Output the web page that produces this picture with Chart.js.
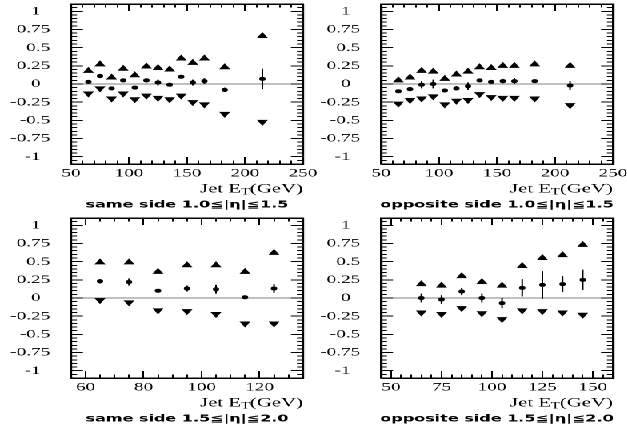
<!DOCTYPE html>
<html>
<head>
<meta charset="utf-8">
<script src="https://cdn.jsdelivr.net/npm/chart.js@4.4.0/dist/chart.umd.min.js"></script>
<style>
html, body { margin: 0; padding: 0; background: #fff; }
/* the original figure is stretched horizontally, so draw narrow and stretch */
#stage { position: absolute; left: 0; top: 0; width: 392px; height: 429px; transform: scaleX(1.6); transform-origin: 0 0; }
#stage canvas { position: absolute; }
#stage .box { position: absolute; border: 1px solid #000; box-sizing: border-box; pointer-events: none; }
</style>
</head>
<body>
<div id="stage">
  <canvas id="c1" width="205" height="214" style="left:0px;top:0px"></canvas>
  <canvas id="c2" width="202" height="214" style="left:190px;top:0px"></canvas>
  <canvas id="c3" width="205" height="215" style="left:0px;top:214px"></canvas>
  <canvas id="c4" width="202" height="215" style="left:190px;top:214px"></canvas>
</div>
<script>
// same side, 1.0 <= |eta| <= 1.5
const etSame10 = [65, 75, 85, 95, 105, 115, 125, 135, 145, 155, 165, 182.5, 215];
const upSame10 = [0.18, 0.27, 0.09, 0.21, 0.12, 0.24, 0.22, 0.20, 0.35, 0.29, 0.35, 0.23, 0.66];
const downSame10 = [-0.13, -0.06, -0.20, -0.13, -0.21, -0.16, -0.19, -0.21, -0.16, -0.25, -0.28, -0.41, -0.52];
const asymSame10 = [0.03, 0.11, -0.06, 0.05, -0.05, 0.05, 0.02, -0.01, 0.10, 0.02, 0.04, -0.08, 0.07];
const errSame10 = [0.015, 0.03, 0.015, 0.015, 0.015, 0.03, 0.04, 0.015, 0.015, 0.04, 0.04, 0.03, 0.14];

// opposite side, 1.0 <= |eta| <= 1.5
const etOpp10 = [65, 75, 85, 95, 105, 115, 125, 135, 145, 155, 165, 182.5, 213];
const upOpp10 = [0.05, 0.09, 0.18, 0.17, 0.07, 0.13, 0.17, 0.23, 0.22, 0.25, 0.25, 0.27, 0.25];
const downOpp10 = [-0.27, -0.22, -0.20, -0.17, -0.28, -0.23, -0.22, -0.14, -0.18, -0.19, -0.19, -0.20, -0.29];
const asymOpp10 = [-0.10, -0.07, -0.01, 0.00, -0.09, -0.06, -0.03, 0.05, 0.03, 0.04, 0.04, 0.04, -0.02];
const errOpp10 = [0.015, 0.03, 0.05, 0.06, 0.015, 0.03, 0.05, 0.015, 0.015, 0.03, 0.04, 0.015, 0.06];

// same side, 1.5 <= |eta| <= 2.0
const etSame15 = [65, 75, 85, 95, 105, 115, 125];
const upSame15 = [0.49, 0.49, 0.36, 0.45, 0.45, 0.36, 0.62];
const downSame15 = [-0.03, -0.06, -0.17, -0.18, -0.22, -0.35, -0.35];
const asymSame15 = [0.23, 0.22, 0.10, 0.13, 0.12, 0.01, 0.13];
const errSame15 = [0.03, 0.05, 0.015, 0.04, 0.06, 0.02, 0.06];

// opposite side, 1.5 <= |eta| <= 2.0
const etOpp15 = [65, 75, 85, 95, 105, 115, 125, 135, 145];
const upOpp15 = [0.19, 0.17, 0.30, 0.22, 0.17, 0.44, 0.55, 0.59, 0.73];
const downOpp15 = [-0.20, -0.22, -0.14, -0.21, -0.29, -0.17, -0.18, -0.20, -0.23];
const asymOpp15 = [0.00, -0.02, 0.09, 0.00, -0.07, 0.14, 0.18, 0.19, 0.25];
const errOpp15 = [0.06, 0.06, 0.05, 0.06, 0.07, 0.12, 0.19, 0.11, 0.14];

// axes
const yTicks = [-1, -0.75, -0.5, -0.25, 0, 0.25, 0.5, 0.75, 1];
const yTickLabels = ['-1', '-0.75', '-0.5', '-0.25', '0', '0.25', '0.5', '0.75', '1'];
const xTicksWide = [50, 100, 150, 200, 250];
const xTicksSame15 = [60, 80, 100, 120];
const xTicksOpp15 = [50, 75, 100, 125, 150];
const xTitle = ['Jet E', 'T', '(GeV)'];
const captions = ['same side 1.0≦|η|≦1.5', 'opposite side 1.0≦|η|≦1.5',
                  'same side 1.5≦|η|≦2.0', 'opposite side 1.5≦|η|≦2.0'];

const serif = 'Liberation Serif';
const yMin = -1.1, yMax = 1.1, yMinorStep = 0.05;

const panels = [
  {id: 'c1', et: etSame10, up: upSame10, down: downSame10, asym: asymSame10, err: errSame10,
   xMin: 50, xMax: 250, xTicks: xTicksWide, minor: 10, caption: captions[0],
   pad: {left: 0, right: 15.625, top: 4, bottom: 0}, yw: 44.375, xh: 50},
  {id: 'c2', et: etOpp10, up: upOpp10, down: downOpp10, asym: asymOpp10, err: errOpp10,
   xMin: 50, xMax: 250, xTicks: xTicksWide, minor: 10, caption: captions[1],
   pad: {left: 0, right: 8.875, top: 4, bottom: 0}, yw: 48.125, xh: 50},
  {id: 'c3', et: etSame15, up: upSame15, down: downSame15, asym: asymSame15, err: errSame15,
   xMin: 55, xMax: 135, xTicks: xTicksSame15, minor: 5, caption: captions[2],
   pad: {left: 0, right: 15.625, top: 3, bottom: 0}, yw: 44.375, xh: 51},
  {id: 'c4', et: etOpp15, up: upOpp15, down: downOpp15, asym: asymOpp15, err: errOpp15,
   xMin: 45, xMax: 160, xTicks: xTicksOpp15, minor: 5, caption: captions[3],
   pad: {left: 0, right: 8.875, top: 3, bottom: 0}, yw: 48.125, xh: 51}
];

const black = '#000';
const frameLine = {display: true, color: black, width: 1};

// extra axes with no labels: they give the frame its other sides and the inward ticks
function bareAxis(axis, position, min, max, values, len, weight, border){
  return {
    type: 'linear', axis: axis, position: position, min: min, max: max, weight: weight,
    afterBuildTicks: s => { s.ticks = values.map(v => ({value: v})); },
    afterFit: s => {
      if(s.isHorizontal()) s.height = 0; else s.width = 0;
      s.paddingLeft = 0; s.paddingRight = 0; s.paddingTop = 0; s.paddingBottom = 0;
    },
    ticks: {display: false},
    grid: {display: true, drawOnChartArea: false, drawTicks: true, tickLength: -len, tickColor: black, tickWidth: 1},
    border: border ? frameLine : {display: false}
  };
}

// error bars
function drawErrors(chart, p){
  const ctx = chart.ctx, x = chart.scales.x, y = chart.scales.y;
  ctx.save();
  ctx.strokeStyle = black;
  ctx.lineWidth = 1;
  ctx.beginPath();
  for(let i = 0; i < p.et.length; i++){
    const px = x.getPixelForValue(p.et[i]);
    ctx.moveTo(px, y.getPixelForValue(p.asym[i] - p.err[i]));
    ctx.lineTo(px, y.getPixelForValue(p.asym[i] + p.err[i]));
  }
  ctx.stroke();
  ctx.restore();
}

// axis title with subscript and the panel caption
function drawTexts(chart, p){
  const ctx = chart.ctx, a = chart.chartArea;
  ctx.save();
  ctx.fillStyle = black;
  ctx.textBaseline = 'middle';
  ctx.textAlign = 'left';
  const big = '13px "' + serif + '"', small = '9px "' + serif + '"';
  ctx.font = big;
  const w1 = ctx.measureText(xTitle[0]).width, w3 = ctx.measureText(xTitle[2]).width;
  ctx.font = small;
  const w2 = ctx.measureText(xTitle[1]).width;
  const tx = a.right - (w1 + w2 + w3), ty = a.bottom + 25;
  ctx.font = big; ctx.fillText(xTitle[0], tx, ty);
  ctx.font = small; ctx.fillText(xTitle[1], tx + w1, ty + 3);
  ctx.font = big; ctx.fillText(xTitle[2], tx + w1 + w2, ty);

  ctx.font = 'bold 10px "DejaVu Sans"';
  ctx.textAlign = 'center';
  ctx.fillText(p.caption, (a.left + a.right) / 2, a.bottom + 41);
  ctx.restore();
}

// outline of the plot area, placed from the chart's own area
function addBox(chart){
  const a = chart.chartArea, c = chart.canvas;
  const box = document.createElement('div');
  box.className = 'box';
  box.style.left = (parseFloat(c.style.left) + a.left - 0.5) + 'px';
  box.style.top = (parseFloat(c.style.top) + a.top - 0.5) + 'px';
  box.style.width = (a.width + 1) + 'px';
  box.style.height = (a.height + 1) + 'px';
  document.getElementById('stage').appendChild(box);
}

function makeChart(p){
  const pts = arr => p.et.map((x, i) => ({x: x, y: arr[i]}));
  const xMinor = [];
  for(let v = p.xMin + p.minor; v < p.xMax; v += p.minor) xMinor.push(v);
  const yMinor = [];
  for(let k = Math.ceil(yMin / yMinorStep) + 1; k < yMax / yMinorStep - 0.5; k++) yMinor.push(k * yMinorStep);
  const mark = {xAxisID: 'x', yAxisID: 'y', pointBackgroundColor: black, pointBorderWidth: 0};

  const chart = new Chart(document.getElementById(p.id), {
    type: 'scatter',
    data: {datasets: [
      Object.assign({data: pts(p.up), pointStyle: 'triangle', pointRadius: 4}, mark),
      Object.assign({data: pts(p.down), pointStyle: 'triangle', pointRotation: 180, pointRadius: 4}, mark),
      Object.assign({data: pts(p.asym), pointStyle: 'circle', pointRadius: 2}, mark)
    ]},
    options: {
      responsive: false, animation: false, devicePixelRatio: 2, events: [],
      layout: {padding: p.pad},
      plugins: {legend: {display: false}, tooltip: {enabled: false}},
      scales: {
        x: {
          type: 'linear', axis: 'x', position: 'bottom', weight: 1, min: p.xMin, max: p.xMax,
          afterBuildTicks: s => { s.ticks = p.xTicks.map(v => ({value: v})); },
          afterFit: s => { s.height = p.xh; s.paddingLeft = 0; s.paddingRight = 0; },
          grid: {display: true, drawOnChartArea: false, drawTicks: true, tickLength: -7, tickColor: black, tickWidth: 1},
          border: frameLine,
          ticks: {font: {family: serif, size: 12}, color: black, padding: 9, maxRotation: 0, autoSkip: false,
                  callback: (v, i) => String(p.xTicks[i])}
        },
        xMinorB: bareAxis('x', 'bottom', p.xMin, p.xMax, xMinor, 3.5, 0, false),
        xTop: bareAxis('x', 'top', p.xMin, p.xMax, p.xTicks, 7, 1, true),
        xMinorT: bareAxis('x', 'top', p.xMin, p.xMax, xMinor, 3.5, 0, false),
        y: {
          type: 'linear', axis: 'y', position: 'left', weight: 1, min: yMin, max: yMax,
          afterBuildTicks: s => { s.ticks = yTicks.map(v => ({value: v})); },
          afterFit: s => { s.width = p.yw; s.paddingTop = 0; s.paddingBottom = 0; },
          grid: {display: true, drawOnChartArea: true, drawTicks: true, tickLength: -7.5, tickColor: black, tickWidth: 1,
                 color: c => (c.tick && c.tick.value === 0) ? '#808080' : 'rgba(0,0,0,0)'},
          border: frameLine,
          ticks: {font: {family: serif, size: 12}, color: black, padding: 20.5, autoSkip: false,
                  callback: (v, i) => Number.isInteger(v) ? yTickLabels[i] + '  ' : yTickLabels[i]}
        },
        yMinorL: bareAxis('y', 'left', yMin, yMax, yMinor, 3.75, 0, false),
        yRight: bareAxis('y', 'right', yMin, yMax, yTicks, 7.5, 1, true),
        yMinorR: bareAxis('y', 'right', yMin, yMax, yMinor, 3.75, 0, false)
      }
    },
    plugins: [{
      id: 'extras' + p.id,
      afterDatasetsDraw: chart => drawErrors(chart, p),
      afterDraw: chart => drawTexts(chart, p)
    }]
  });
  addBox(chart);
  return chart;
}

panels.forEach(makeChart);
</script>
</body>
</html>
